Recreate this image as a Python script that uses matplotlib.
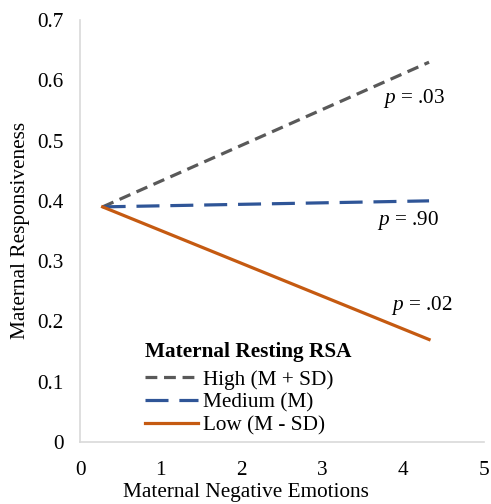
import matplotlib
matplotlib.use("Agg")
import matplotlib.pyplot as plt

x_vals = [0.28, 4.32]
high = [0.39, 0.63]
medium = [0.39, 0.40]
low = [0.39, 0.17]
labels = ["High (M + SD)", "Medium (M)", "Low (M - SD)"]
pvals = ["= .03", "= .90", "= .02"]

plt.rcParams['font.family'] = ['Liberation Serif']
plt.rcParams['mathtext.fontset'] = 'custom'
plt.rcParams['mathtext.rm'] = 'Liberation Serif'
plt.rcParams['mathtext.it'] = 'Liberation Serif:italic'

fs = 15.3
fig = plt.figure(figsize=(4.91, 5.04), dpi=100)
ax = fig.add_axes([80/491, (504-442)/504, (484-80)/491, (442-20)/504])

lw = 2.3
ax.plot(x_vals, high, color="#595959", lw=lw, dashes=(3.7, 2.1), label=labels[0])
ax.plot(x_vals, medium, color="#2F5597", lw=lw, dashes=(7.2, 3.4), label=labels[1])
ax.plot(x_vals, low, color="#C55A11", lw=lw, label=labels[2])

ax.set_xlim(0, 5)
ax.set_ylim(0, 0.7)
ax.set_xticks([0, 1, 2, 3, 4, 5])
ax.set_yticks([0, 0.1, 0.2, 0.3, 0.4, 0.5, 0.6, 0.7])
ax.set_yticklabels(["0", "0.1", "0.2", "0.3", "0.4", "0.5", "0.6", "0.7"])
for s in ["top", "right"]:
    ax.spines[s].set_visible(False)
for s in ["left", "bottom"]:
    ax.spines[s].set_color("#D9D9D9")
    ax.spines[s].set_linewidth(1.2)
ax.tick_params(length=0, labelsize=fs)
ax.tick_params(axis='y', pad=12)
ax.tick_params(axis='x', pad=14)

fig.text(246/491, 1 - 493/504, "Maternal Negative Emotions", fontsize=fs, ha="center", va="center")
fig.text(21/491, 1 - 230/504, "Maternal Responsiveness", fontsize=fs, ha="center", va="center",
         rotation=90)

for (xx, yy), p in zip([(3.75, 0.57), (3.68, 0.367), (3.85, 0.226)], pvals):
    ax.text(xx, yy, r"$\it{p}$ " + p, fontsize=fs, ha="left", va="center")

leg = ax.legend(title="Maternal Resting RSA", loc="lower left", bbox_to_anchor=(0.13, -0.015),
                frameon=False, fontsize=fs, title_fontproperties={"weight": "bold", "size": fs},
                handlelength=2.5, handletextpad=0.2, labelspacing=0.14, borderpad=0.1)
leg._legend_box.align = "left"
leg._legend_box.sep = 0.14 * fs + 3.6

fig.savefig("out.png", dpi=100)
